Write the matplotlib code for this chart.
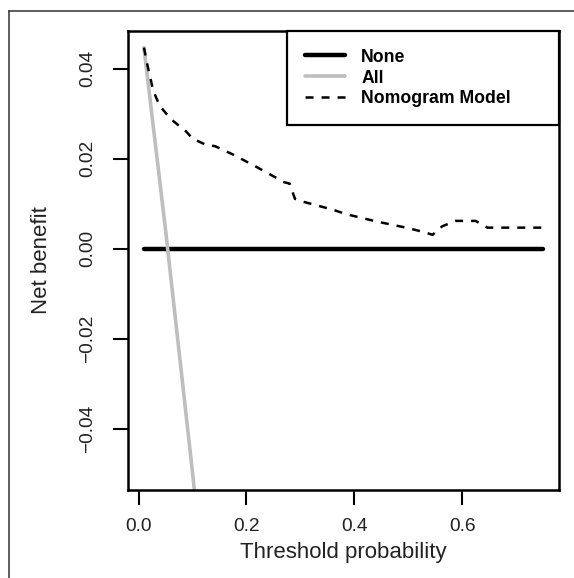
import matplotlib
matplotlib.use("Agg")
import matplotlib.pyplot as plt
from matplotlib.lines import Line2D

plt.rcParams['font.family'] = ['Liberation Sans', 'DejaVu Sans']

# Кривая решений (decision curve)
none_pt = [0.01, 0.75]
none_nb = [0.0, 0.0]

all_pt = [0.01, 0.05, 0.10, 0.15]
all_nb = [0.0447, 0.0042, -0.0497, -0.1070]

model_pt = [0.01, 0.017, 0.027, 0.039, 0.06, 0.088, 0.10, 0.125, 0.142, 0.156,
            0.176, 0.217, 0.27, 0.28, 0.29, 0.304, 0.36, 0.385, 0.44, 0.496,
            0.53, 0.545, 0.563, 0.588, 0.625, 0.647, 0.75]
model_nb = [0.0447, 0.0405, 0.0352, 0.0318, 0.0288, 0.0261, 0.0245, 0.0231, 0.0228, 0.0220,
            0.0209, 0.0183, 0.0148, 0.0145, 0.0111, 0.0105, 0.0087, 0.0077, 0.0061, 0.0047,
            0.0037, 0.0031, 0.0050, 0.0062, 0.0062, 0.0047, 0.0047]

x_ticks = [0.0, 0.2, 0.4, 0.6]
x_labels = ['0.0', '0.2', '0.4', '0.6']
y_ticks = [-0.04, -0.02, 0.0, 0.02, 0.04]
y_labels = ['\u22120.04', '\u22120.02', '0.00', '0.02', '0.04']

W, H = 574, 578
fig = plt.figure(figsize=(W / 100, H / 100), dpi=100)
ax = fig.add_axes([128 / W, (H - 490) / H, 431 / W, 459 / H])

ax.plot(none_pt, none_nb, color='black', lw=3.2, solid_capstyle='round', label='None')
ax.plot(all_pt, all_nb, color='#bebebe', lw=2.6, solid_capstyle='round', label='All')
ax.plot(model_pt, model_nb, color='black', lw=1.8, linestyle=(0, (3.2, 3.2)),
        label='Nomogram Model')

ax.set_xlim(-0.0196, 0.7796)
ax.set_ylim(-0.0536, 0.0484)
ax.set_xticks(x_ticks)
ax.set_xticklabels(x_labels)
ax.set_yticks(y_ticks)
ax.set_yticklabels(y_labels, rotation=90, va='center')

for s in ax.spines.values():
    s.set_linewidth(1.8)
ax.tick_params(length=10.8, width=1.5, labelsize=13.8, colors='black')
ax.tick_params(axis='x', pad=9.5)
ax.tick_params(axis='y', pad=12)
for t in ax.get_xticklabels() + ax.get_yticklabels():
    t.set_color('#222222')

ax.set_xlabel('Threshold probability', fontsize=16, color='#222222', labelpad=5)
ax.set_ylabel('Net benefit', fontsize=16, color='#222222', labelpad=20)

leg = ax.legend(loc='upper right', bbox_to_anchor=(0.369, 0, 0.631, 1), mode='expand',
                borderaxespad=0, fancybox=False, framealpha=1, edgecolor='black',
                prop={'weight': 'bold', 'size': 12.7}, handlelength=2.3,
                handletextpad=0.9, borderpad=1.0, labelspacing=0.22)
leg.get_frame().set_linewidth(1.6)

# внешняя рамка
fig.add_artist(Line2D([9 / W, 1], [1 - 11 / H, 1 - 11 / H], transform=fig.transFigure,
                      color='#333333', lw=1.1))
fig.add_artist(Line2D([9 / W, 9 / W], [0, 1 - 11 / H], transform=fig.transFigure,
                      color='#333333', lw=1.1))

fig.savefig('out.png', dpi=100)
